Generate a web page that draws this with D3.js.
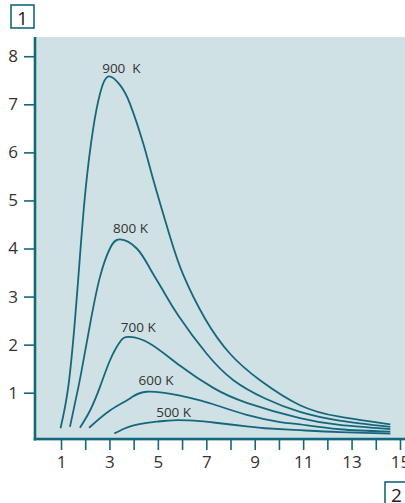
<!DOCTYPE html>
<html>
<head>
<meta charset="utf-8">
<script src="https://cdn.jsdelivr.net/npm/d3@7"></script>
<style>
  body { margin: 0; background: #fff; }
  svg { display: block; }
  .tick text { font-family: "Open Sans", sans-serif; fill: #333; }
</style>
</head>
<body>
<svg id="chart" width="405" height="503"></svg>
<script>
// wavelength ticks and radiance ticks
var xTicks = [1, 2, 3, 4, 5, 6, 7, 8, 9, 10, 11, 12, 13, 14, 15];
var yTicks = [1, 2, 3, 4, 5, 6, 7, 8];

// curves: [wavelength, radiance]
var t900 = [[0.98,0.26],[1.30,1.12],[1.58,2.53],[1.78,3.82],[2.02,5.25],[2.33,6.5],[2.61,7.22],[2.95,7.58],[3.44,7.40],[3.85,7.01],[4.4,6.18],[4.8,5.45],[5.5,4.25],[6.05,3.45],[6.95,2.54],[8.0,1.8],[9.22,1.26],[10.87,0.74],[12.5,0.5],[14.6,0.34]];
var t800 = [[1.37,0.29],[1.72,1.12],[1.92,1.65],[2.24,2.53],[2.61,3.41],[3.02,4.0],[3.44,4.19],[4.13,4.0],[4.68,3.58],[5.22,3.12],[5.85,2.6],[7.0,1.82],[8.12,1.26],[9.43,0.88],[10.87,0.60],[12.5,0.42],[14.6,0.29]];
var t700 = [[1.78,0.27],[2.2,0.63],[2.61,1.12],[3.02,1.67],[3.44,2.06],[3.82,2.16],[4.68,2.02],[5.92,1.56],[7.29,1.1],[8.67,0.79],[10.87,0.47],[12.5,0.33],[14.6,0.24]];
var t600 = [[2.16,0.27],[3.02,0.63],[3.85,0.88],[4.54,1.02],[5.92,0.94],[6.74,0.84],[7.29,0.76],[8.67,0.54],[10.05,0.39],[10.87,0.34],[12.5,0.24],[14.6,0.19]];
var t500 = [[3.2,0.15],[3.6,0.25],[4.0,0.32],[4.54,0.37],[5.0,0.40],[5.8,0.43],[6.74,0.41],[7.29,0.38],[8.67,0.30],[9.43,0.26],[10.87,0.22],[12.5,0.18],[14.6,0.15]];

var curves = [t900, t800, t700, t600, t500];
var curveLabels = ["900  K", "800 K", "700 K", "600 K", "500 K"];
// where each label sits, in data units (left edge, baseline)
var labelPos = [[2.7, 7.65], [3.15, 4.33], [3.47, 2.27], [4.2, 1.15], [4.93, 0.49]];

var teal = "#15687c";

var svg = d3.select("#chart");

var x = d3.scaleLinear().domain([1, 15]).range([61, 400]);
var y = d3.scaleLinear().domain([1, 7]).range([392.7, 104.3]);

// plot background
svg.append("rect")
    .attr("x", x(0) - 2)
    .attr("y", 37)
    .attr("width", 405 - (x(0) - 2))
    .attr("height", y(0) - 37)
    .attr("fill", "#cfe1e5");

// axes
var xAxis = d3.axisBottom(x)
    .tickValues(xTicks)
    .tickSize(11)
    .tickSizeOuter(0)
    .tickPadding(6)
    .tickFormat(function (d) { return d % 2 ? d : ""; });

var yAxis = d3.axisLeft(y)
    .tickValues(yTicks)
    .tickSize(11)
    .tickSizeOuter(0)
    .tickPadding(6)
    .tickFormat(d3.format("d"));

var gx = svg.append("g")
    .attr("transform", "translate(0," + 439 + ")")
    .call(xAxis);
var gy = svg.append("g")
    .attr("transform", "translate(" + 35 + ",0)")
    .call(yAxis);

[gx, gy].forEach(function (g) {
    g.select(".domain").remove();
    g.selectAll(".tick line").attr("stroke", teal).attr("stroke-width", 1.6);
    g.selectAll(".tick text").attr("font-size", 17);
});

// thick axis lines
svg.append("line")
    .attr("x1", 35).attr("x2", 35)
    .attr("y1", 37).attr("y2", 440.5)
    .attr("stroke", teal).attr("stroke-width", 2.6);
svg.append("line")
    .attr("x1", 33.7).attr("x2", 405)
    .attr("y1", 439).attr("y2", 439)
    .attr("stroke", teal).attr("stroke-width", 2.6);

// curves
var line = d3.line()
    .x(function (d) { return x(d[0]); })
    .y(function (d) { return y(d[1]); })
    .curve(d3.curveNatural);

svg.append("g").selectAll("path")
    .data(curves)
    .join("path")
    .attr("d", line)
    .attr("fill", "none")
    .attr("stroke", teal)
    .attr("stroke-width", 1.8);

svg.append("g").selectAll("text")
    .data(curveLabels)
    .join("text")
    .attr("x", function (d, i) { return x(labelPos[i][0]); })
    .attr("y", function (d, i) { return y(labelPos[i][1]); })
    .attr("font-family", "Open Sans, sans-serif")
    .attr("font-size", 13.5)
    .attr("fill", "#333")
    .style("white-space", "pre")
    .text(function (d) { return d; });

// boxed figure callouts
function callout(bx, by, txt) {
    svg.append("rect")
        .attr("x", bx).attr("y", by)
        .attr("width", 23).attr("height", 23)
        .attr("fill", "none")
        .attr("stroke", teal)
        .attr("stroke-width", 1.6);
    svg.append("text")
        .attr("x", bx + 11.5).attr("y", by + 19.5)
        .attr("text-anchor", "middle")
        .attr("font-family", "Open Sans, sans-serif")
        .attr("font-size", 19)
        .attr("fill", "#222")
        .text(txt);
}
callout(11, 5, "1");
callout(385, 482, "2");
</script>
</body>
</html>
